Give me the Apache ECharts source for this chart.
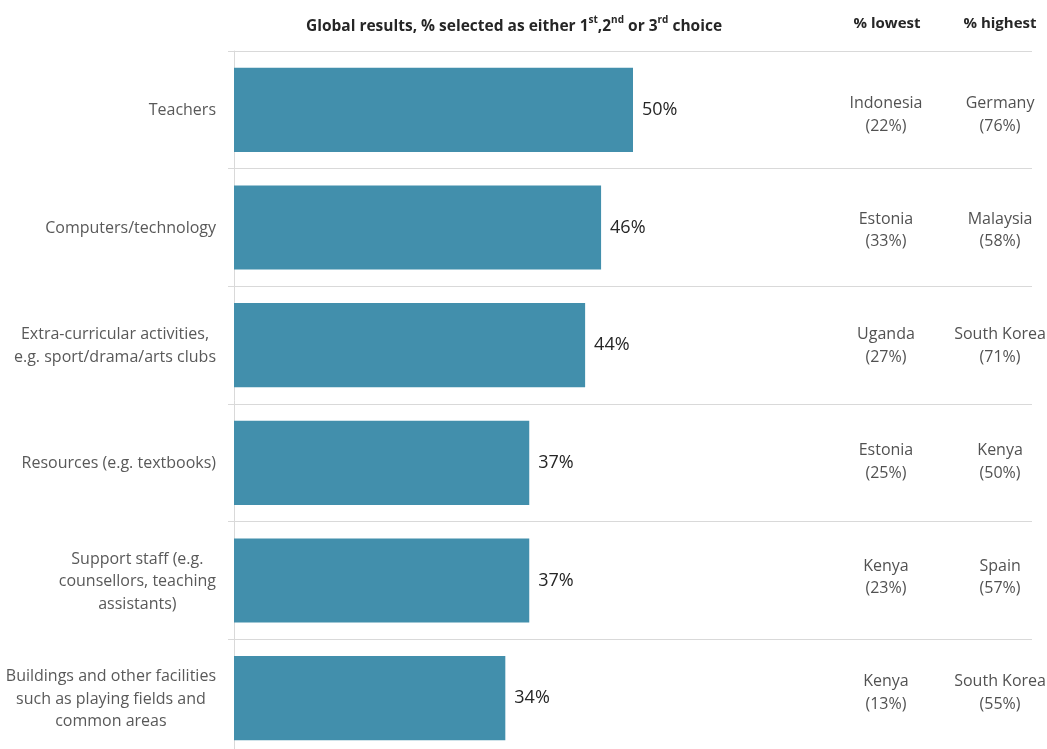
<!DOCTYPE html>
<html>
<head>
<meta charset="utf-8">
<script src="https://cdn.jsdelivr.net/npm/echarts@6/dist/echarts.min.js"></script>
<style>
  html, body { margin: 0; padding: 0; background: #fff; }
  #chart { width: 1047px; height: 749px; }
</style>
</head>
<body>
<div id="chart"></div>
<script>
// What pupils would most like to see improved at their school
const categories = [
  'Teachers',
  'Computers/technology',
  'Extra-curricular activities,\ne.g. sport/drama/arts clubs',
  'Resources (e.g. textbooks)',
  'Support staff (e.g.\ncounsellors, teaching\nassistants)',
  'Buildings and other facilities\nsuch as playing fields and\ncommon areas'
];
const globalPct = [50, 46, 44, 37, 37, 34];
const lowestCountry = ['Indonesia', 'Estonia', 'Uganda', 'Estonia', 'Kenya', 'Kenya'];
const lowestPct = [22, 33, 27, 25, 23, 13];
const highestCountry = ['Germany', 'Malaysia', 'South Korea', 'Kenya', 'Spain', 'South Korea'];
const highestPct = [76, 58, 71, 50, 57, 55];

const FONT = '"Open Sans", "Noto Sans", sans-serif';
const LOW_COL = 81.7;   // column centres in percent of the plot width
const HIGH_COL = 96.0;

const chart = echarts.init(document.getElementById('chart'), null, { renderer: 'canvas' });

function tableLabel(names, pcts) {
  return {
    show: true, position: 'inside', align: 'center', verticalAlign: 'middle',
    formatter: function (p) { return names[p.dataIndex] + '\n(' + pcts[p.dataIndex] + '%)'; },
    fontFamily: FONT, fontSize: 16, color: '#262626', lineHeight: 22.5
  };
}

chart.setOption({
  animation: false,
  backgroundColor: '#ffffff',
  textStyle: { fontFamily: FONT },
  title: [
    {
      text: '{b|Global results, % selected as either 1}{s|st}{b|,2}{s|nd}{b| or 3}{s|rd}{b| choice}',
      left: 514, top: 15, textAlign: 'center', padding: 0,
      textStyle: {
        rich: {
          b: { fontFamily: FONT, fontSize: 15.5, fontWeight: 'bold', color: '#262626', lineHeight: 20, verticalAlign: 'bottom' },
          s: { fontFamily: FONT, fontSize: 10, fontWeight: 'bold', color: '#262626', lineHeight: 11, verticalAlign: 'top' }
        }
      }
    },
    {
      text: '% lowest', left: 887, top: 16, textAlign: 'center', padding: 0,
      textStyle: { fontFamily: FONT, fontSize: 15, fontWeight: 'bold', color: '#262626' }
    },
    {
      text: '% highest', left: 1000, top: 16, textAlign: 'center', padding: 0,
      textStyle: { fontFamily: FONT, fontSize: 15, fontWeight: 'bold', color: '#262626' }
    }
  ],
  grid: [
    // bar chart
    { left: 234, right: 15, top: 51, height: 706, containLabel: false, outerBoundsMode: 'none' },
    // lowest / highest country table
    { left: 234, right: 15, top: 57, height: 694, containLabel: false, outerBoundsMode: 'none' }
  ],
  xAxis: [
    { type: 'value', gridIndex: 0, min: 0, max: 100, show: false },
    { type: 'value', gridIndex: 1, min: 0, max: 100, show: false }
  ],
  yAxis: [
    {
      type: 'category',
      gridIndex: 0,
      data: categories,
      inverse: true,
      axisLine: { show: true, lineStyle: { color: '#d9d9d9', width: 1 } },
      axisTick: { show: true, length: 6, lineStyle: { color: '#d9d9d9' } },
      splitLine: { show: true, lineStyle: { color: '#d9d9d9', width: 1 } },
      axisLabel: {
        margin: 18,
        formatter: function (v) {
          return v.split('\n').map(function (l) { return '{c|' + l + '}'; }).join('\n');
        },
        rich: {
          c: { fontFamily: FONT, fontSize: 16, color: '#595959', lineHeight: 22.5, align: 'center', padding: [2, 0, 0, 0] }
        }
      }
    },
    { type: 'category', gridIndex: 1, data: categories, inverse: true, show: false }
  ],
  series: [
    {
      type: 'bar',
      data: globalPct,
      barCategoryGap: '28.5%',
      itemStyle: { color: '#428FAC' },
      label: {
        show: true, position: 'right', distance: 9,
        formatter: '{c}%',
        fontFamily: FONT, fontSize: 18, color: '#262626', padding: [3, 0, 0, 0]
      },
      silent: true
    },
    {
      type: 'scatter',
      xAxisIndex: 1, yAxisIndex: 1,
      symbolSize: 0,
      data: categories.map(function (c, i) { return [LOW_COL, i]; }),
      label: tableLabel(lowestCountry, lowestPct),
      silent: true
    },
    {
      type: 'scatter',
      xAxisIndex: 1, yAxisIndex: 1,
      symbolSize: 0,
      data: categories.map(function (c, i) { return [HIGH_COL, i]; }),
      label: tableLabel(highestCountry, highestPct),
      silent: true
    }
  ]
});
</script>
</body>
</html>
